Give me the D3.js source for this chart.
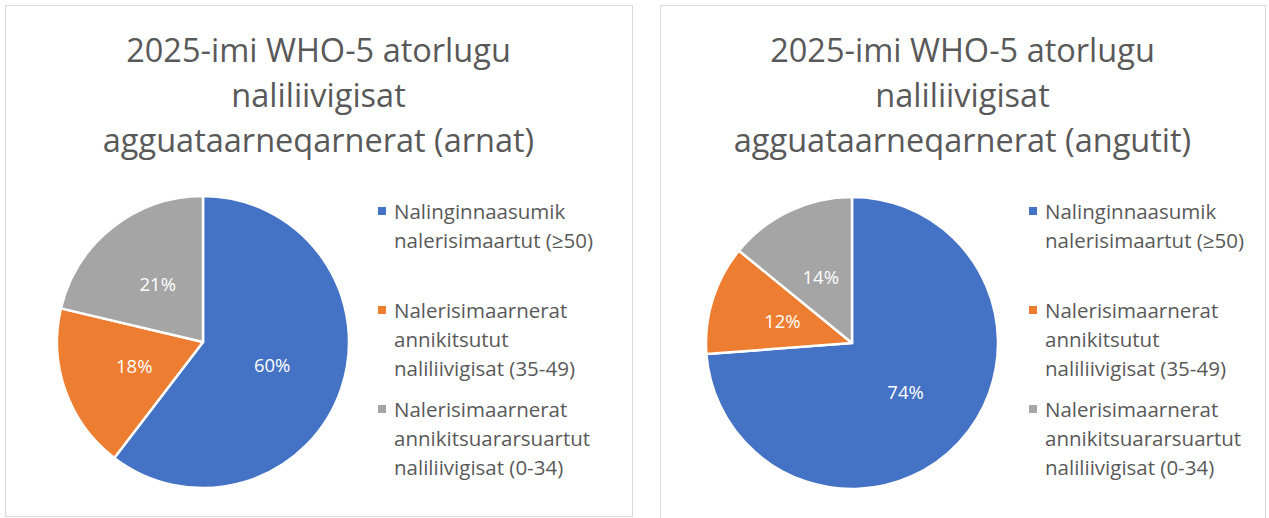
<!DOCTYPE html>
<html>
<head>
<meta charset="utf-8">
<script src="https://cdn.jsdelivr.net/npm/d3@7"></script>
<style>
  body { margin: 0; background: #fff; }
  svg text { font-family: "Open Sans", "Noto Sans", sans-serif; }
</style>
</head>
<body>
<svg id="chart" width="1269" height="518"></svg>
<script>
// data
var categories = [
  ["Nalinginnaasumik", "nalerisimaartut (\u226550)"],
  ["Nalerisimaarnerat", "annikitsutut", "naliliivigisat (35-49)"],
  ["Nalerisimaarnerat", "annikitsuararsuartut", "naliliivigisat (0-34)"]
];
var colors = ["#4472C4", "#ED7D31", "#A5A5A5"];
var womenValues = [60.4, 18.3, 21.3];
var menValues = [73.8, 12.1, 14.1];
var titleWomen = ["2025-imi WHO-5 atorlugu", "naliliivigisat", "agguataarneqarnerat (arnat)"];
var titleMen = ["2025-imi WHO-5 atorlugu", "naliliivigisat", "agguataarneqarnerat (angutit)"];

var svg = d3.select("#chart");

// panels: box, pie centre, legend x
var panels = [
  {x: 5, y: 5, w: 627, h: 511, cx: 203, cy: 342, legX: 378, title: titleWomen, values: womenValues},
  {x: 660, y: 5, w: 605, h: 520, cx: 852, cy: 343, legX: 1029, title: titleMen, values: menValues}
];

var radius = 146;
var pie = d3.pie().sort(null).value(function(d) { return d; });
var arc = d3.arc().innerRadius(0).outerRadius(radius);
var labelArc = d3.arc().innerRadius(radius * 0.5).outerRadius(radius * 0.5);

panels.forEach(function(p) {
  var g = svg.append("g");

  g.append("rect")
    .attr("x", p.x + 0.5).attr("y", p.y + 0.5)
    .attr("width", p.w).attr("height", p.h)
    .attr("fill", "#fff")
    .attr("stroke", "#d9d9d9")
    .attr("stroke-width", 1);

  // title
  var titleX = p.x + p.w / 2;
  g.append("g").selectAll("text")
    .data(p.title)
    .enter().append("text")
      .attr("x", titleX)
      .attr("y", function(d, i) { return 62 + i * 45; })
      .attr("text-anchor", "middle")
      .attr("fill", "#595959")
      .attr("font-size", "32.5px")
      .text(function(d) { return d; });

  // pie
  var total = d3.sum(p.values);
  var slices = g.append("g")
    .attr("transform", "translate(" + p.cx + "," + p.cy + ")");

  slices.selectAll("path")
    .data(pie(p.values))
    .enter().append("path")
      .attr("d", arc)
      .attr("fill", function(d, i) { return colors[i]; })
      .attr("stroke", "#fff")
      .attr("stroke-width", 2.5)
      .attr("stroke-linejoin", "round");

  slices.selectAll("text")
    .data(pie(p.values))
    .enter().append("text")
      .attr("transform", function(d) { return "translate(" + labelArc.centroid(d) + ")"; })
      .attr("dy", "0.35em")
      .attr("text-anchor", "middle")
      .attr("fill", "#fff")
      .attr("font-size", "18.5px")
      .text(function(d) { return d3.format(".0%")(d.data / total); });

  // legend
  var legend = g.append("g");
  var items = legend.selectAll("g")
    .data(categories)
    .enter().append("g")
      .attr("transform", function(d, i) { return "translate(" + p.legX + "," + (219 + i * 99) + ")"; });

  items.append("rect")
    .attr("x", 0).attr("y", -12)
    .attr("width", 8).attr("height", 8)
    .attr("fill", function(d, i) { return colors[i]; });

  items.selectAll("text")
    .data(function(d) { return d; })
    .enter().append("text")
      .attr("x", 16)
      .attr("y", function(d, i) { return i * 29; })
      .attr("fill", "#595959")
      .attr("font-size", "20.5px")
      .text(function(d) { return d; });
});
</script>
</body>
</html>
